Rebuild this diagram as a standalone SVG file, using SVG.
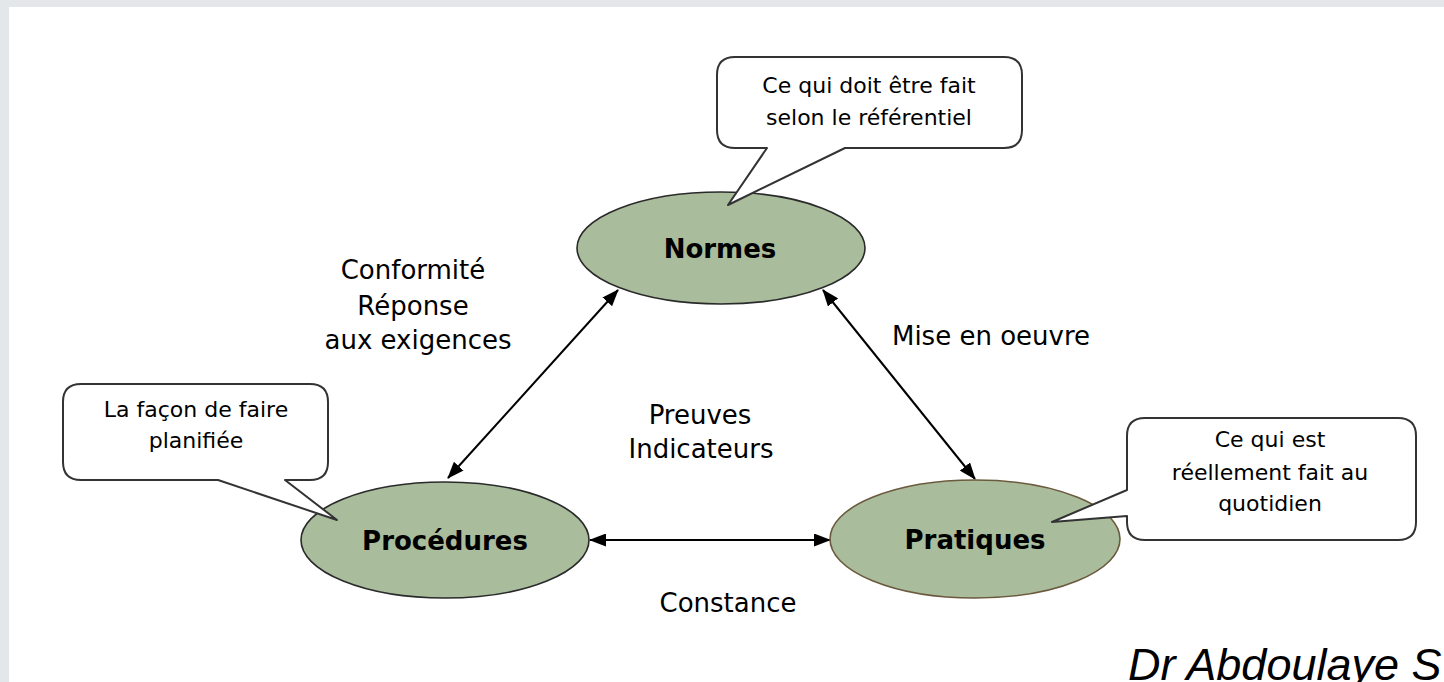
<svg xmlns="http://www.w3.org/2000/svg" width="1444" height="682" viewBox="0 0 1444 682">
<defs>
<style>
.bg{fill:#ffffff}
.band{fill:#e3e7e9}
.node{fill:#a9bc9c;stroke:#2a2a2a;stroke-width:1.6}
.nlabel{font-family:"DejaVu Sans",Verdana,sans-serif;font-weight:bold;font-size:26px;fill:#000;text-anchor:middle}
.label{font-family:"DejaVu Sans",Verdana,sans-serif;font-size:26px;fill:#000;text-anchor:middle}
.call{fill:#ffffff;stroke:#333333;stroke-width:2;stroke-linejoin:round}
.ctext{font-family:"DejaVu Sans",Verdana,sans-serif;font-size:22px;fill:#000;text-anchor:middle}
.conn{stroke:#000;stroke-width:2;fill:none;marker-start:url(#ah);marker-end:url(#ah)}
.sig{font-family:"Liberation Sans",Arial,sans-serif;font-style:italic;font-size:45px;fill:#000}
</style>
<marker id="ah" viewBox="0 0 17 13" refX="16" refY="6.5" markerWidth="17" markerHeight="13" markerUnits="userSpaceOnUse" orient="auto-start-reverse">
<path d="M0,0 L17,6.5 L0,13 Z" fill="#000"/>
</marker>
</defs>
<rect class="bg" x="0" y="0" width="1444" height="682"/>
<rect class="band" x="0" y="0" width="1444" height="7"/>
<rect class="band" x="0" y="0" width="9" height="682"/>

<g id="connectors">
<line class="conn" x1="448" y1="478" x2="618" y2="290"/>
<line class="conn" x1="823" y1="290" x2="975" y2="479"/>
<line class="conn" x1="590" y1="540" x2="830" y2="540"/>
</g>

<g id="node-normes">
<ellipse class="node" cx="721" cy="248" rx="144" ry="56"/>
<text class="nlabel" x="720" y="258">Normes</text>
</g>
<g id="node-procedures">
<ellipse class="node" cx="445" cy="540" rx="144" ry="58"/>
<text class="nlabel" x="445" y="550">Procédures</text>
</g>
<g id="node-pratiques">
<ellipse class="node" cx="975" cy="539" rx="145" ry="59" style="stroke:#6b5a3e"/>
<text class="nlabel" x="975" y="549">Pratiques</text>
</g>

<g id="callout-normes">
<path class="call" d="M735,57 H1004 Q1022,57 1022,75 V130 Q1022,148 1004,148 H845 L728,205 L767,148 H735 Q717,148 717,130 V75 Q717,57 735,57 Z"/>
<text class="ctext" x="869" y="93">Ce qui doit être fait</text>
<text class="ctext" x="869" y="125">selon le référentiel</text>
</g>
<g id="callout-procedures">
<path class="call" d="M81,384 H310 Q328,384 328,402 V462 Q328,480 310,480 H285 L337,520 L218,480 H81 Q63,480 63,462 V402 Q63,384 81,384 Z"/>
<text class="ctext" x="196" y="417">La façon de faire</text>
<text class="ctext" x="196" y="448">planifiée</text>
</g>
<g id="callout-pratiques">
<path class="call" d="M1145,418 H1398 Q1416,418 1416,436 V522 Q1416,540 1398,540 H1145 Q1127,540 1127,522 V516 L1052,522 L1127,490 V436 Q1127,418 1145,418 Z"/>
<text class="ctext" x="1270" y="447">Ce qui est</text>
<text class="ctext" x="1270" y="480">réellement fait au</text>
<text class="ctext" x="1270" y="511">quotidien</text>
</g>

<g id="labels">
<text class="label" x="413" y="279">Conformité</text>
<text class="label" x="413" y="315">Réponse</text>
<text class="label" x="418" y="349">aux exigences</text>
<text class="label" x="991" y="345">Mise en oeuvre</text>
<text class="label" x="700" y="424">Preuves</text>
<text class="label" x="701" y="458">Indicateurs</text>
<text class="label" x="728" y="612">Constance</text>
</g>
<text class="sig" x="1128" y="680">Dr Abdoulaye S</text>
</svg>
